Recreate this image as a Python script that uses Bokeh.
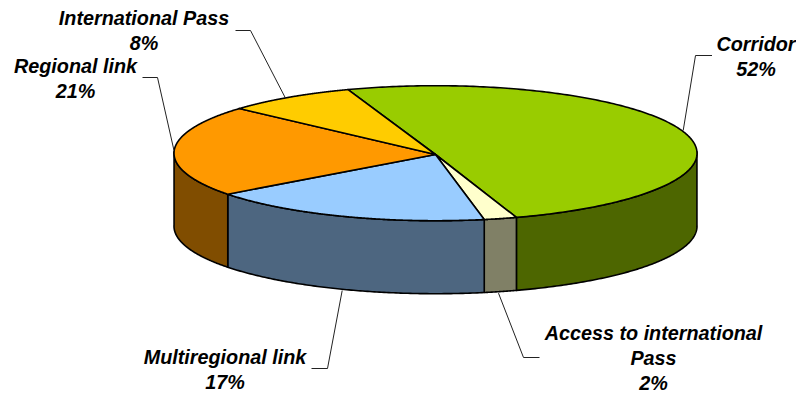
import numpy as np
from bokeh.core.properties import value
from bokeh.embed import file_html
from bokeh.models import ColumnDataSource, Range1d
from bokeh.plotting import figure
from bokeh.resources import INLINE

# Shares in percent, clockwise from the back of the disc
categories = ["Corridor", "Access to international Pass", "Multiregional link",
              "Regional link", "International Pass"]
shares = [52, 2, 17, 21, 8]
top_colors = ["#99CC00", "#FFFFCC", "#99CCFF", "#FF9900", "#FFCC00"]
side_colors = ["#4D6600", "#808066", "#4D6680", "#804D00", "#806600"]

# Wrapped label lines, with the centre of each label block and its line pitch
label_lines = [["Corridor"], ["Access to international", "Pass"], ["Multiregional link"],
               ["Regional link"], ["International Pass"]]
label_x = [755.5, 653, 224.5, 75, 143.5]
label_y = [43, 332, 356, 65, 17]
label_pitch = 25

# Elbow leaders running from each label to the disc
leader_x = [[711.5, 695, 682.7], [539, 523, 498], [311, 327, 341.7], [142, 157, 173.5], [235, 250, 285]]
leader_y = [[55, 55, 130], [357, 357, 292.7], [368, 368, 290], [77, 77, 150], [30, 30, 97.7]]

# Projected disc: rim ellipse, apex, wall height and the start of the first slice
CX, CY, RX, RY = 435.0, 152.7, 261.5, 67.5
APEX_X, APEX_Y = 435.0, 154.0
DEPTH = 73.0
START_DEG = 112.4
PERSPECTIVE_COS, PERSPECTIVE_SIN = 1.2, -2.6


def rim_angle(deg):
    """Angle on the projected ellipse for a true angle on the disc."""
    r = np.radians(deg)
    return np.radians(deg + PERSPECTIVE_COS * np.cos(r) + PERSPECTIVE_SIN * np.sin(r))


def rim(deg):
    t = rim_angle(deg)
    return CX + RX * np.cos(t), CY - RY * np.sin(t)


edges = START_DEG - 3.6 * np.concatenate([[0], np.cumsum(shares)])

p = figure(width=796, height=393, output_backend="svg", toolbar_location=None,
           x_range=Range1d(0, 796), y_range=Range1d(393, 0),
           min_border=0, outline_line_color=None, background_fill_color="white")
p.axis.visible = False
p.grid.visible = False

# Outer wall: only the part of each slice on the front half of the rim shows
for i in range(len(shares)):
    hi, lo = edges[i], edges[i + 1]
    wall_hi, wall_lo = None, None
    for k in (-1, 0):
        a = min(hi, 360 * k)
        b = max(lo, 360 * k - 180)
        if a > b:
            wall_hi, wall_lo = a, b
    if wall_hi is None:
        continue
    xs, ys = rim(np.linspace(wall_hi, wall_lo, 120))
    p.patch(np.concatenate([xs, xs[::-1]]), np.concatenate([ys, ys[::-1] + DEPTH]),
            fill_color=side_colors[i], line_color="black", line_width=1.6, line_join="round")

# Top face
for i in range(len(shares)):
    xs, ys = rim(np.linspace(edges[i], edges[i + 1], 240))
    p.patch(np.concatenate([[APEX_X], xs]), np.concatenate([[APEX_Y], ys]),
            fill_color=top_colors[i], line_color="black", line_width=1.6, line_join="round")

# Leaders
p.multi_line(leader_x, leader_y, line_color="#222222", line_width=1)

# Labels: wrapped name lines followed by the percentage
tx, ty, tt = [], [], []
for lines, x, y, share in zip(label_lines, label_x, label_y, shares):
    for n, line in enumerate(lines + [f"{share}%"]):
        tx.append(x)
        ty.append(y + n * label_pitch)
        tt.append(line)
p.text("x", "y", "text", source=ColumnDataSource(dict(x=tx, y=ty, text=tt)),
       text_font=value("Liberation Sans"), text_font_style="bold italic",
       text_font_size="19.8px", text_color="black", text_align="center", text_baseline="middle")

open("out.html", "w").write(file_html(p, INLINE))
